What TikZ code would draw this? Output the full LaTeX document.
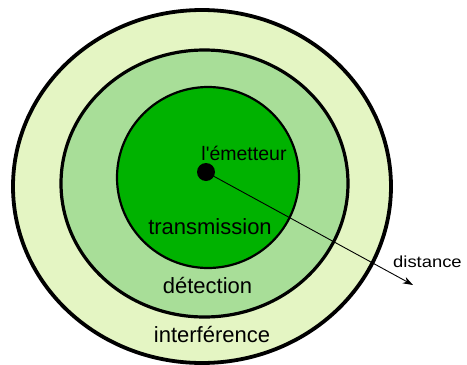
\documentclass[tikz,border=0pt]{standalone}
\usepackage{fontspec}
\setmainfont{Liberation Sans}
\usepackage{graphicx}
\usetikzlibrary{arrows.meta}
\definecolor{zoneint}{RGB}{228,245,195}
\definecolor{zonedet}{RGB}{168,222,152}
\definecolor{zonetrans}{RGB}{0,178,0}
\tikzset{
  zone/.style={draw=black, fill=#1},
  zonelabel/.style={anchor=base, inner sep=0pt, font=\fontsize{22}{24}\selectfont},
}

\begin{document}
\begin{tikzpicture}[x=1pt, y=-1pt]
\useasboundingbox (0, 0) rectangle (467, 365);
\draw [zone=zoneint, line width=3.8] (202, 186.5) ellipse [x radius=189, y radius=176.5];
\draw [zone=zonedet, line width=3.2] (204.5, 183.5) ellipse [x radius=143.5, y radius=133.5];
\draw [zone=zonetrans, line width=2.2] (208, 177.5) ellipse [x radius=91, y radius=90.5];
\node (emitter) [circle, fill=black, inner sep=0pt, minimum size=18] at (206, 172) {};
\coordinate (far) at (413, 285);
\draw [line width=0.9, -{Stealth[length=10, width=7, inset=3]}] (emitter.center) -- (far);
%Text
\node (emitlabel) [anchor=base, inner sep=0pt, font=\fontsize{19.5}{22}\selectfont] at (244, 160) {l\textquotesingle émetteur};
\node (translabel) [zonelabel] at (210, 234) {transmission};
\node (detlabel) [zonelabel] at (207.5, 293) {détection};
\node (intlabel) [zonelabel] at (212, 342) {interférence};
\node (distlabel) [anchor=base west, inner sep=0pt, font=\fontsize{16}{18}\selectfont] at (393, 267) {\scalebox{1.15}[1]{distance}};
\end{tikzpicture}
\end{document}
